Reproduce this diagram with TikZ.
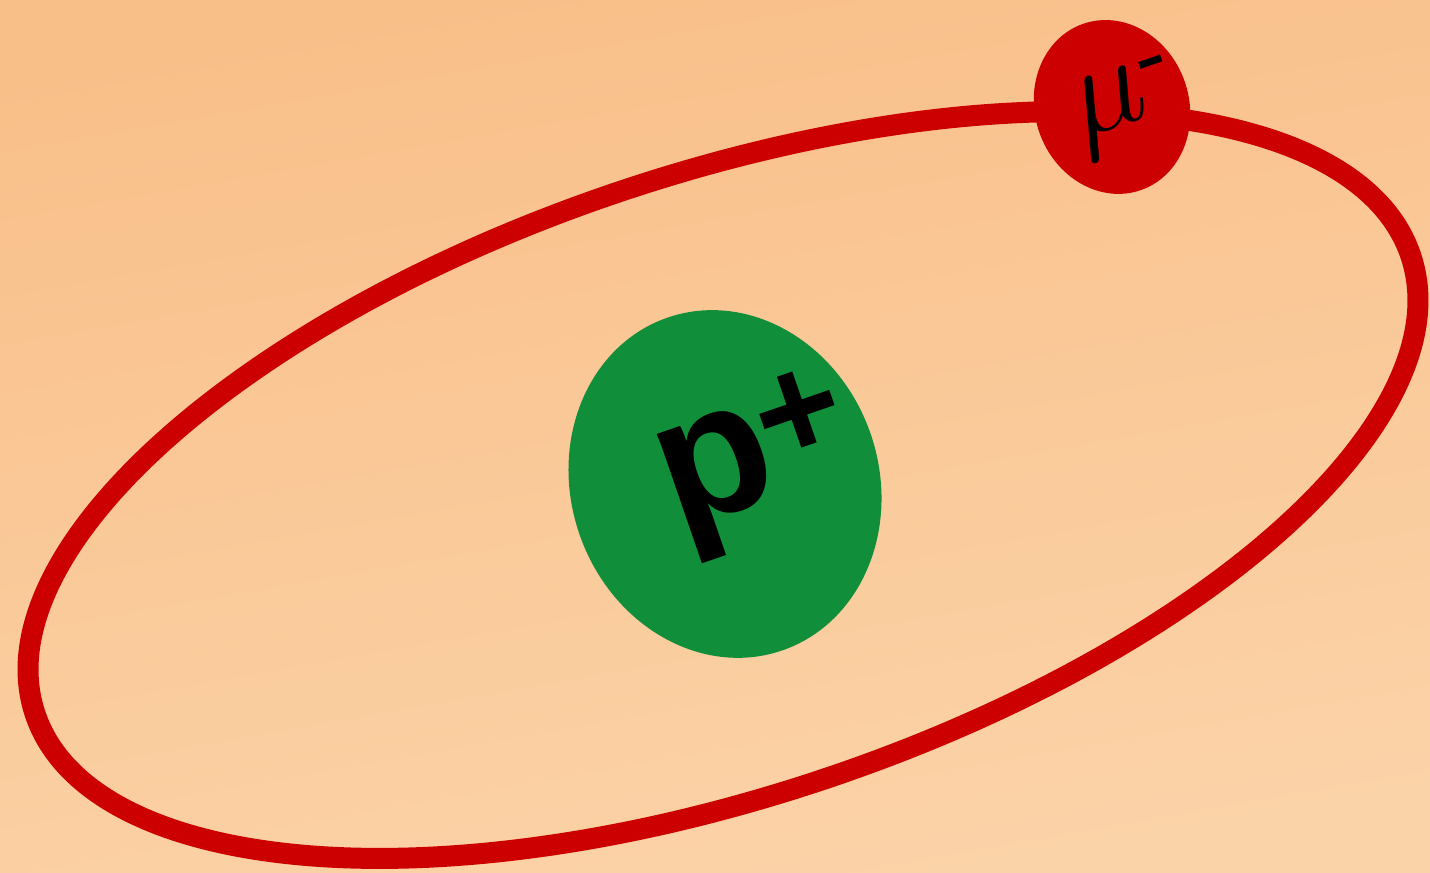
\RequirePackage{fix-cm}
\documentclass[tikz,border=0pt]{standalone}
\usepackage{fontspec}
\usetikzlibrary{shapes.geometric}
\newfontfamily\protonfont{Liberation Sans}
\definecolor{bgtop}{RGB}{249,191,137}
\definecolor{bgbottom}{RGB}{251,211,168}
\definecolor{orbitred}{RGB}{204,0,0}
\definecolor{protongreen}{RGB}{17,142,58}

\begin{document}
\begin{tikzpicture}[
    particle/.style={ellipse, inner sep=0pt, rotate=19},
    particletext/.style={inner sep=0pt, text=black, rotate=19},
    orbit/.style={draw=orbitred, line width=2.1mm}
]
    % Background with a soft gradient
    \useasboundingbox (0,0) rectangle (14.3,8.73);
    \shade[top color=bgtop, bottom color=bgbottom, shading angle=10] (0,0) rectangle (14.3,8.73);

    % Orbit of the muon around the proton
    \coordinate (centre) at (7.23,3.88);
    \draw[orbit, rotate around={18.4:(centre)}] (centre) ellipse [x radius=7.25, y radius=3.11];

    % Proton in the middle
    \node[particle, fill=protongreen, minimum width=3.08cm, minimum height=3.52cm] (proton) at (7.25,3.89) {};
    \node[particletext, font=\protonfont\bfseries\fontsize{53}{60}\selectfont] (protonlabel)
        at ([shift={(0.33,0.20)}]proton.center) {p\kern-1pt\raisebox{7.5pt}{\fontsize{42}{42}\selectfont +}};

    % Muon sitting on the orbit
    \node[particle, fill=orbitred, minimum width=1.54cm, minimum height=1.76cm] (muon) at (11.12,7.66) {};
    \node[particletext, font=\fontsize{37}{40}\selectfont] (muonlabel)
        at ([shift={(0.0,-0.06)}]muon.center) {$\mu$\smash{\rlap{\kern0.5pt\raisebox{9.5pt}{\bfseries\fontsize{22}{22}\selectfont -}}}};
\end{tikzpicture}
\end{document}
